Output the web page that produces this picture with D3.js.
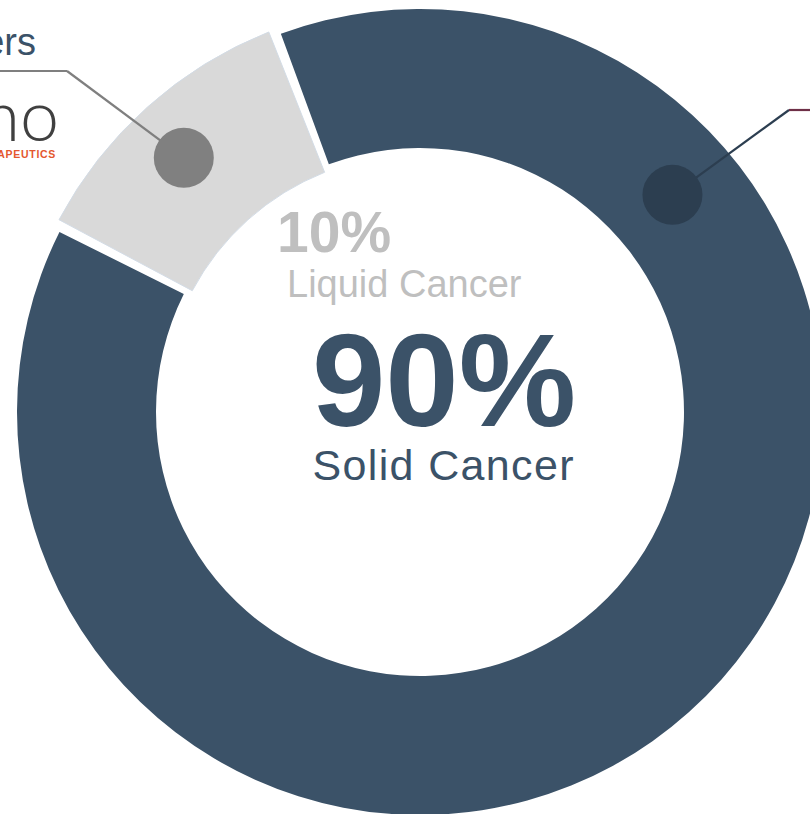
<!DOCTYPE html>
<html>
<head>
<meta charset="utf-8">
<script src="https://cdn.jsdelivr.net/npm/d3@7"></script>
<style>
  html, body { margin: 0; padding: 0; background: #fff; overflow: hidden; }
  svg { display: block; }
</style>
</head>
<body>
<div id="chart"></div>
<script>
// data
var categories = ["Solid Cancer", "Liquid Cancer"];
var percentLabels = ["90%", "10%"];
var sliceShares = [88.4, 11.6]; // share of the ring each slice covers in the drawing
var calloutLabels = ["", "Others"];

var width = 810, height = 814;
var cx = 420, cy = 412;
var deg = Math.PI / 180;

var colors = ["#3b5268", "#d9d9d9"];
var markerColors = ["#2c3e50", "#808080"];

var svg = d3.select("#chart")
  .append("svg")
  .attr("width", width)
  .attr("height", height);

var g = svg.append("g")
  .attr("transform", "translate(" + cx + "," + cy + ")");

var startA = -20.95 * deg;
var pie = d3.pie()
  .sort(null)
  .value(function(d) { return d; })
  .startAngle(startA)
  .endAngle(startA + 2 * Math.PI);

var gap = 1.5 * deg;
// the liquid slice sits slightly proud of the ring
var radii = [{inner: 264, outer: 403}, {inner: 258, outer: 409}];

var arcs = pie(sliceShares);

g.selectAll("path.slice")
  .data(arcs)
  .enter()
  .append("path")
  .attr("class", "slice")
  .attr("d", function(d, i) {
    return d3.arc()
      .innerRadius(radii[i].inner)
      .outerRadius(radii[i].outer)
      .startAngle(d.startAngle + gap / 2)
      .endAngle(d.endAngle - gap / 2)();
  })
  .style("fill", function(d, i) { return colors[i]; })
  .style("stroke", function(d, i) { return i == 1 ? "#d3dce6" : "none"; })
  .style("stroke-width", 1);

// callout markers + leader lines
var markers = [
  {angle: 49.3 * deg, r: 333, elbow: [789, 110], end: [815, 110], lineColor: "#2c3e50", tailColor: "#6e2f47"},
  {angle: -42.9 * deg, r: 347, elbow: [67, 71], end: [-5, 71], lineColor: "#7f7f7f", tailColor: "#7f7f7f"}
];

markers.forEach(function(m, i) {
  var p = d3.pointRadial(m.angle, m.r);
  var mx = cx + p[0], my = cy + p[1];
  svg.append("line")
    .attr("x1", mx).attr("y1", my)
    .attr("x2", m.elbow[0]).attr("y2", m.elbow[1])
    .style("stroke", m.lineColor)
    .style("stroke-width", 2.2);
  svg.append("line")
    .attr("x1", m.elbow[0]).attr("y1", m.elbow[1])
    .attr("x2", m.end[0]).attr("y2", m.end[1])
    .style("stroke", m.tailColor)
    .style("stroke-width", 2.2);
  svg.append("circle")
    .attr("cx", mx).attr("cy", my)
    .attr("r", 30)
    .style("fill", markerColors[i]);
});

// "Others" label, runs off the left edge
svg.append("text")
  .attr("x", 36).attr("y", 55)
  .attr("text-anchor", "end")
  .style("font-family", "Liberation Sans, Arial, sans-serif")
  .style("font-size", "38px")
  .style("fill", "#3b5268")
  .text(calloutLabels[1]);

// clipped logo
svg.append("text")
  .attr("x", 59).attr("y", 141)
  .attr("text-anchor", "end")
  .style("font-family", "Lato, sans-serif")
  .style("font-weight", 300)
  .style("font-size", "70px")
  .style("fill", "#404040")
  .text("no");
svg.append("text")
  .attr("x", 56).attr("y", 157.5)
  .attr("text-anchor", "end")
  .style("font-family", "Liberation Sans, Arial, sans-serif")
  .style("font-weight", "bold")
  .style("font-size", "10.5px")
  .style("letter-spacing", "0.7px")
  .style("fill", "#e4572e")
  .text("THERAPEUTICS");

// centre labels
var font = "Liberation Sans, Arial, sans-serif";

svg.append("text")
  .attr("x", 444).attr("y", 426)
  .attr("text-anchor", "middle")
  .style("font-family", font)
  .style("font-weight", "bold")
  .style("font-size", "132px")
  .style("fill", colors[0])
  .text(percentLabels[0]);

svg.append("text")
  .attr("x", 443).attr("y", 480)
  .attr("text-anchor", "middle")
  .attr("textLength", 261)
  .attr("lengthAdjust", "spacing")
  .style("font-family", font)
  .style("font-size", "43px")
  .style("fill", colors[0])
  .text(categories[0]);

svg.append("text")
  .attr("x", 277).attr("y", 252)
  .style("font-family", font)
  .style("font-weight", "bold")
  .style("font-size", "57px")
  .style("fill", "#bfbfbf")
  .text(percentLabels[1]);

svg.append("text")
  .attr("x", 287).attr("y", 297)
  .style("font-family", font)
  .style("font-size", "38px")
  .style("fill", "#bfbfbf")
  .text(categories[1]);
</script>
</body>
</html>
